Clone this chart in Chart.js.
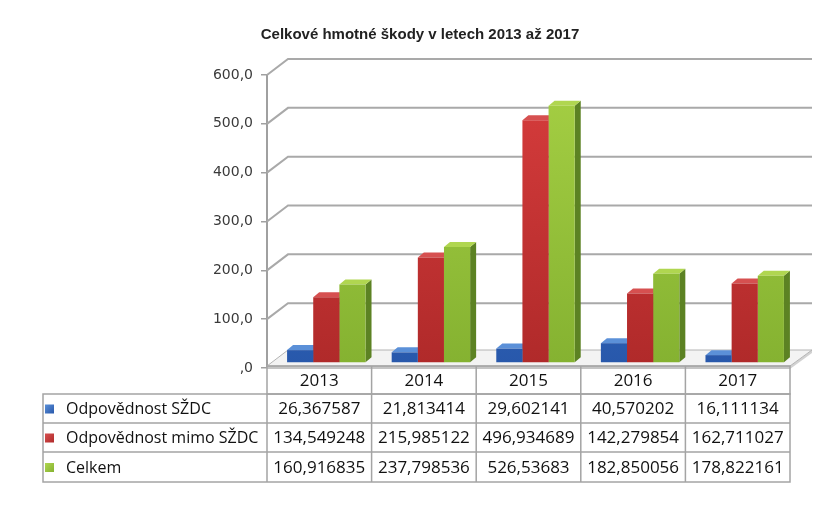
<!DOCTYPE html>
<html lang="cs">
<head>
<meta charset="utf-8">
<title>Celkové hmotné škody</title>
<script src="https://cdn.jsdelivr.net/npm/chart.js@4/dist/chart.umd.min.js"></script>
<style>
  html, body { margin: 0; padding: 0; background: #fff; }
  #wrap { width: 834px; height: 511px; position: relative; }
</style>
</head>
<body>
<div id="wrap"><canvas id="chart"></canvas></div>
<script>
// data
const years = ['2013', '2014', '2015', '2016', '2017'];
const seriesNames = ['Odpovědnost SŽDC', 'Odpovědnost mimo SŽDC', 'Celkem'];
const szdc = [26.367587, 21.813414, 29.602141, 40.570202, 16.111134];
const mimoSzdc = [134.549248, 215.985122, 496.934689, 142.279854, 162.711027];
const celkem = [160.916835, 237.798536, 526.53683, 182.850056, 178.822161];

// colours: front top, front bottom, top face, side face
const palette = [
  ['#3d7bd3', '#2858ab', '#5b90d8', '#1d4687'],
  ['#d83d3d', '#b02a2a', '#d65050', '#872020'],
  ['#a6d044', '#85b231', '#b0d650', '#5c8223']
];

const WALL_DX = 21, WALL_DY = -16;   // depth of the back wall
const BAR_DX = 7, BAR_DY = -5;       // bars sit a bit behind the front plane
const SIDE_DX = 6, SIDE_DY = -5;     // depth of one bar

function frontGradient(context, i) {
  const chart = context.chart;
  const a = chart.chartArea;
  if (!a) return palette[i][0];
  const g = chart.ctx.createLinearGradient(0, a.top, 0, a.bottom);
  g.addColorStop(0, palette[i][0]);
  g.addColorStop(1, palette[i][1]);
  return g;
}

const bar3d = {
  id: 'bar3d',
  beforeDatasetsDraw(chart) {
    const { ctx, chartArea: a, scales: { y } } = chart;
    const y0 = y.getPixelForValue(0);

    // back wall grid lines
    ctx.save();
    ctx.strokeStyle = '#a9a9a9';
    ctx.lineWidth = 2;
    y.ticks.forEach(t => {
      const py = y.getPixelForValue(t.value);
      if (t.value === 0) return;
      ctx.beginPath();
      ctx.moveTo(a.left, py);
      ctx.lineTo(a.left + WALL_DX, py + WALL_DY);
      ctx.lineTo(a.right + WALL_DX + 1, py + WALL_DY);
      ctx.stroke();
    });

    // floor slab
    const fl = a.left, fr = a.right, ft = y0 - 2;
    ctx.fillStyle = '#d2d2d2';
    ctx.beginPath();
    ctx.moveTo(fr, ft); ctx.lineTo(fr + WALL_DX + 1, ft + WALL_DY);
    ctx.lineTo(fr + WALL_DX + 1, ft + WALL_DY + 3); ctx.lineTo(fr, ft + 3);
    ctx.closePath(); ctx.fill();
    ctx.fillStyle = '#c4c4c4';
    ctx.fillRect(fl, ft, fr - fl, 3);
    ctx.fillStyle = '#f3f3f3';
    ctx.strokeStyle = '#b4b4b4';
    ctx.lineWidth = 1;
    ctx.beginPath();
    ctx.moveTo(fl, ft); ctx.lineTo(fr, ft);
    ctx.lineTo(fr + WALL_DX + 1, ft + WALL_DY); ctx.lineTo(fl + WALL_DX, ft + WALL_DY);
    ctx.closePath(); ctx.fill(); ctx.stroke();
    ctx.restore();

    // bars: side and top faces, fronts are drawn by Chart.js afterwards
    ctx.save();
    ctx.translate(BAR_DX, BAR_DY);
    chart.data.datasets.forEach((ds, di) => {
      chart.getDatasetMeta(di).data.forEach(bar => {
        const { x, y: top, base, width } = bar.getProps(['x', 'y', 'base', 'width'], true);
        const l = x - width / 2, r = x + width / 2;
        ctx.fillStyle = palette[di][3];
        ctx.beginPath();
        ctx.moveTo(r, base); ctx.lineTo(r + SIDE_DX, base + SIDE_DY);
        ctx.lineTo(r + SIDE_DX, top + SIDE_DY); ctx.lineTo(r, top);
        ctx.closePath(); ctx.fill();
        ctx.fillStyle = palette[di][2];
        ctx.beginPath();
        ctx.moveTo(l, top); ctx.lineTo(l + SIDE_DX, top + SIDE_DY);
        ctx.lineTo(r + SIDE_DX, top + SIDE_DY); ctx.lineTo(r, top);
        ctx.closePath(); ctx.fill();
      });
    });
  },
  afterDatasetsDraw(chart) {
    chart.ctx.restore();
  }
};

// data table under the plot
const dataTable = {
  id: 'dataTable',
  afterDraw(chart) {
    const { ctx, chartArea: a, scales: { x } } = chart;
    const series = [szdc, mimoSzdc, celkem];
    const band = (a.right - a.left) / years.length;
    const tableLeft = 43;
    const rows = [366, 394, 423, 452, 482];

    ctx.save();
    ctx.strokeStyle = '#a4a4a4';
    ctx.lineWidth = 1.5;
    // header row
    ctx.strokeRect(a.left, rows[0], a.right - a.left, rows[1] - rows[0]);
    // body
    ctx.strokeRect(tableLeft, rows[1], a.right - tableLeft, rows[4] - rows[1]);
    ctx.beginPath();
    for (let r = 2; r < 4; r++) {
      ctx.moveTo(tableLeft, rows[r]); ctx.lineTo(a.right, rows[r]);
    }
    for (let i = 0; i < years.length; i++) {
      const cx = a.left + i * band;
      ctx.moveTo(cx, i === 0 ? rows[1] : rows[0]); ctx.lineTo(cx, rows[4]);
    }
    ctx.stroke();

    ctx.fillStyle = '#111';
    ctx.textBaseline = 'middle';
    ctx.textAlign = 'center';
    ctx.font = '17px "Open Sans"';
    years.forEach((yr, i) => {
      const cx = x.getPixelForValue(i);
      ctx.fillText(yr, cx, (rows[0] + rows[1]) / 2 + 1);
      series.forEach((vals, si) => {
        ctx.fillText(String(vals[i]).replace('.', ','), cx, (rows[si + 1] + rows[si + 2]) / 2 + 1);
      });
    });

    ctx.textAlign = 'left';
    ctx.font = '16px "Open Sans"';
    seriesNames.forEach((name, si) => {
      const cy = (rows[si + 1] + rows[si + 2]) / 2;
      const g = ctx.createLinearGradient(45, cy - 4, 54, cy + 5);
      g.addColorStop(0, palette[si][2]);
      g.addColorStop(1, palette[si][1]);
      ctx.fillStyle = g;
      ctx.fillRect(45, cy - 4, 9, 9);
      ctx.fillStyle = '#111';
      ctx.fillText(name, 66, cy + 1);
    });
    ctx.restore();
  }
};

new Chart(document.getElementById('chart'), {
  type: 'bar',
  data: {
    labels: years,
    datasets: [szdc, mimoSzdc, celkem].map((vals, i) => ({
      label: seriesNames[i],
      data: vals,
      backgroundColor: ctx => frontGradient(ctx, i),
      borderWidth: 0,
      categoryPercentage: 0.75,
      barPercentage: 1.0
    }))
  },
  options: {
    responsive: true,
    maintainAspectRatio: false,
    animation: false,
    layout: { padding: { top: 0, left: 6, right: 0, bottom: 143 } },
    plugins: {
      legend: { display: false },
      tooltip: { enabled: false },
      title: {
        display: true,
        text: 'Celkové hmotné škody v letech 2013 až 2017',
        color: '#222',
        font: { family: '"Liberation Sans", Arial, sans-serif', size: 15, weight: 'bold' },
        padding: { top: 26, bottom: 31 }
      }
    },
    scales: {
      x: { display: false },
      y: {
        min: 0,
        max: 600,
        afterFit(scale) { scale.width = 261; },
        ticks: {
          stepSize: 100,
          color: '#3a3a3a',
          padding: 8,
          font: { family: '"DejaVu Sans", Verdana, sans-serif', size: 14 },
          callback: v => v === 0 ? ',0' : v.toFixed(1).replace('.', ',')
        },
        grid: { drawOnChartArea: false, drawTicks: true, tickLength: 6, color: '#a0a0a0', lineWidth: 1.5 },
        border: { display: true, color: '#a0a0a0', width: 2 }
      },
      // empty right-hand axis that only reserves room for the 3D depth
      yRight: {
        position: 'right',
        min: 0,
        max: 600,
        afterFit(scale) { scale.width = 44; },
        ticks: { display: false },
        grid: { display: false },
        border: { display: false }
      }
    }
  },
  plugins: [bar3d, dataTable]
});
</script>
</body>
</html>
